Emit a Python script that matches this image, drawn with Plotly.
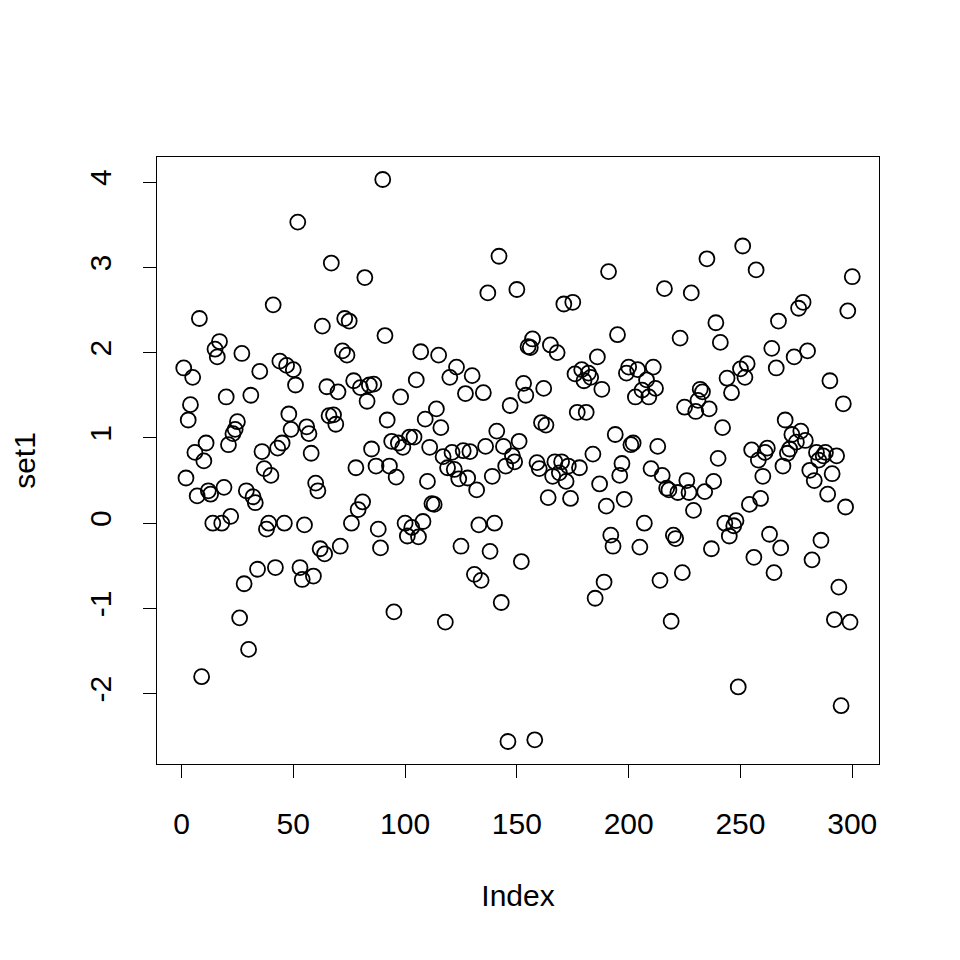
import plotly.graph_objects as go

index = list(range(1, 301))
set1 = [
    1.82, 0.53, 1.21, 1.39, 1.71, 0.83, 0.32, 2.40, -1.80, 0.73,
    0.94, 0.38, 0.34, 0.00, 2.04, 1.95, 2.13, 0.00, 0.42, 1.48,
    0.92, 0.08, 1.05, 1.10, 1.19, -1.11, 1.99, -0.71, 0.38, -1.48,
    1.50, 0.31, 0.24, -0.54, 1.78, 0.84, 0.64, -0.07, 0.00, 0.56,
    2.56, -0.52, 0.88, 1.90, 0.94, 0.00, 1.85, 1.28, 1.10, 1.80,
    1.62, 3.53, -0.52, -0.66, -0.02, 1.13, 1.05, 0.82, -0.62, 0.47,
    0.38, -0.30, 2.31, -0.36, 1.60, 1.26, 3.05, 1.27, 1.16, 1.54,
    -0.27, 2.02, 2.40, 1.97, 2.37, 0.00, 1.67, 0.65, 0.16, 1.59,
    0.25, 2.88, 1.43, 1.62, 0.87, 1.63, 0.67, -0.07, -0.29, 4.03,
    2.20, 1.21, 0.67, 0.96, -1.04, 0.54, 0.94, 1.48, 0.89, 0.00,
    -0.15, 1.01, -0.05, 1.01, 1.68, -0.16, 2.01, 0.02, 1.22, 0.49,
    0.89, 0.23, 0.22, 1.34, 1.97, 1.12, 0.78, -1.16, 0.65, 1.71,
    0.83, 0.63, 1.83, 0.52, -0.27, 0.85, 1.52, 0.53, 0.84, 1.73,
    -0.60, 0.39, -0.02, -0.67, 1.53, 0.90, 2.70, -0.33, 0.55, 0.00,
    1.08, 3.13, -0.93, 0.90, 0.67, -2.56, 1.38, 0.79, 0.72, 2.74,
    0.96, -0.45, 1.64, 1.50, 2.07, 2.06, 2.16, -2.54, 0.71, 0.64,
    1.18, 1.58, 1.15, 0.30, 2.09, 0.55, 0.72, 2.00, 0.59, 0.72,
    2.57, 0.49, 0.67, 0.29, 2.59, 1.75, 1.30, 0.65, 1.80, 1.67,
    1.30, 1.76, 1.71, 0.81, -0.88, 1.95, 0.46, 1.57, -0.69, 0.20,
    2.95, -0.14, -0.27, 1.04, 2.21, 0.56, 0.70, 0.28, 1.76, 1.83,
    0.92, 0.94, 1.48, 1.80, -0.28, 1.56, 0.00, 1.68, 1.48, 0.64,
    1.83, 1.58, 0.90, -0.67, 0.56, 2.75, 0.41, 0.39, -1.15, -0.14,
    -0.18, 0.36, 2.17, -0.58, 1.36, 0.50, 0.36, 2.70, 0.15, 1.31,
    1.44, 1.57, 1.54, 0.37, 3.10, 1.34, -0.30, 0.49, 2.35, 0.76,
    2.12, 1.12, 0.00, 1.70, -0.15, 1.53, -0.03, 0.03, -1.92, 1.81,
    3.25, 1.71, 1.87, 0.22, 0.86, -0.40, 2.97, 0.74, 0.29, 0.55,
    0.83, 0.88, -0.13, 2.05, -0.58, 1.82, 2.37, -0.29, 0.67, 1.21,
    0.82, 0.87, 1.04, 1.95, 0.95, 2.52, 1.08, 2.59, 0.97, 2.02,
    0.62, -0.43, 0.50, 0.83, 0.74, -0.20, 0.79, 0.83, 0.34, 1.67,
    0.58, -1.13, 0.79, -0.75, -2.14, 1.40, 0.19, 2.49, -1.16, 2.89,
]
x_ticks = [0, 50, 100, 150, 200, 250, 300]
x_tick_labels = ["0", "50", "100", "150", "200", "250", "300"]
y_ticks = [-2, -1, 0, 1, 2, 3, 4]
y_tick_labels = ["-2", "-1", "0", "1", "2", "3", "4"]

def padded(lo, hi, f=0.04):
    d = (hi - lo) * f
    return [lo - d, hi + d]

font = dict(family="Liberation Sans, Arial, sans-serif", size=30, color="black")

fig = go.Figure(go.Scatter(
    x=index, y=set1, mode="markers",
    marker=dict(symbol="circle-open", size=15, color="black", line=dict(width=1.8)),
    hoverinfo="skip",
))

axis_common = dict(
    showgrid=False, zeroline=False, showline=True, linecolor="black", linewidth=1.3,
    mirror=True, ticks="outside", ticklen=13, tickwidth=1.3, tickcolor="black",
    tickfont=font, automargin=False,
)
fig.update_layout(
    width=960, height=960,
    paper_bgcolor="white", plot_bgcolor="white",
    margin=dict(l=149, r=89, t=149, b=204),
    font=font,
    showlegend=False,
    xaxis=dict(range=padded(min(index), max(index)), tickvals=x_ticks, ticktext=x_tick_labels,
               ticklabelstandoff=20,
               title=dict(text="Index", font=font, standoff=45), **axis_common),
    yaxis=dict(range=padded(min(set1), max(set1)), tickvals=y_ticks, ticktext=y_tick_labels,
               tickangle=-90, ticklabelstandoff=20,
               title=dict(text="set1", font=font, standoff=40), **axis_common),
)
fig.write_html("out.html")
